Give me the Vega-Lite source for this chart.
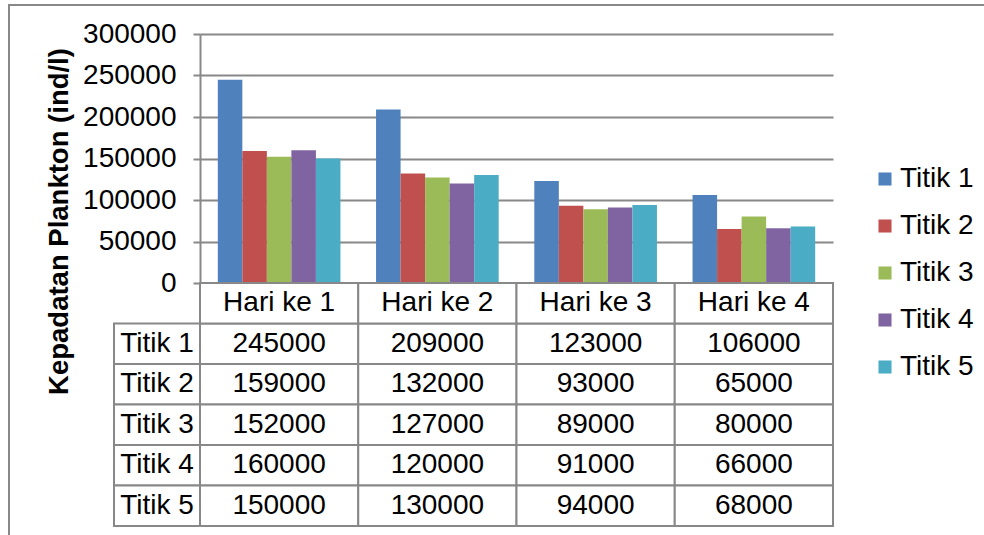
{
  "$schema": "https://vega.github.io/schema/vega-lite/v6.json",
  "width": 983,
  "height": 538,
  "padding": {"left": 9, "top": 5, "right": -8, "bottom": -8},
  "autosize": {"type": "none"},
  "background": "white",
  "config": {
    "view": {"stroke": "#888888", "strokeWidth": 2},
    "font": "Liberation Sans"
  },
  "data": {
    "values": [
      {"day": "Hari ke 1", "series": "Titik 1", "value": 245000},
      {"day": "Hari ke 2", "series": "Titik 1", "value": 209000},
      {"day": "Hari ke 3", "series": "Titik 1", "value": 123000},
      {"day": "Hari ke 4", "series": "Titik 1", "value": 106000},
      {"day": "Hari ke 1", "series": "Titik 2", "value": 159000},
      {"day": "Hari ke 2", "series": "Titik 2", "value": 132000},
      {"day": "Hari ke 3", "series": "Titik 2", "value": 93000},
      {"day": "Hari ke 4", "series": "Titik 2", "value": 65000},
      {"day": "Hari ke 1", "series": "Titik 3", "value": 152000},
      {"day": "Hari ke 2", "series": "Titik 3", "value": 127000},
      {"day": "Hari ke 3", "series": "Titik 3", "value": 89000},
      {"day": "Hari ke 4", "series": "Titik 3", "value": 80000},
      {"day": "Hari ke 1", "series": "Titik 4", "value": 160000},
      {"day": "Hari ke 2", "series": "Titik 4", "value": 120000},
      {"day": "Hari ke 3", "series": "Titik 4", "value": 91000},
      {"day": "Hari ke 4", "series": "Titik 4", "value": 66000},
      {"day": "Hari ke 1", "series": "Titik 5", "value": 150000},
      {"day": "Hari ke 2", "series": "Titik 5", "value": 130000},
      {"day": "Hari ke 3", "series": "Titik 5", "value": 94000},
      {"day": "Hari ke 4", "series": "Titik 5", "value": 68000}
    ]
  },
  "resolve": {"scale": {"x": "independent", "y": "independent"}},
  "layer": [
    {
      "mark": {"type": "bar"},
      "encoding": {
        "x": {
          "field": "day", "type": "nominal",
          "scale": {"range": [191, 824], "paddingInner": 0.225, "paddingOuter": 0.1125},
          "axis": null
        },
        "xOffset": {"field": "series", "type": "nominal", "scale": {"paddingInner": 0, "paddingOuter": 0}},
        "y": {
          "field": "value", "type": "quantitative",
          "scale": {"domain": [0, 300000], "range": [278, 29], "nice": false},
          "axis": {
            "offset": -191,
            "values": [0, 50000, 100000, 150000, 200000, 250000, 300000],
            "format": "d",
            "title": "Kepadatan Plankton (ind/l)",
            "titleFont": "Liberation Sans",
            "titleFontSize": 27.5,
            "titleFontWeight": "bold",
            "titleColor": "black",
            "titleX": -141,
            "titleY": 216,
            "titleAlign": "center",
            "titleBaseline": "middle",
            "titleAngle": 270,
            "labelFont": "Liberation Sans",
            "labelFontSize": 28,
            "labelColor": "black",
            "labelPadding": 17,
            "domainColor": "#888888",
            "domainWidth": 2,
            "tickColor": "#888888",
            "tickWidth": 2,
            "tickSize": 7,
            "grid": true,
            "gridColor": "#888888",
            "gridWidth": 2
          }
        },
        "color": {
          "field": "series", "type": "nominal",
          "scale": {
            "domain": ["Titik 1", "Titik 2", "Titik 3", "Titik 4", "Titik 5"],
            "range": ["#4F81BD", "#C0504D", "#9BBB59", "#8064A2", "#4BACC6"]
          },
          "legend": {
            "title": null,
            "orient": "none",
            "legendX": 862,
            "legendY": 160,
            "padding": 0,
            "symbolType": "square",
            "symbolSize": 170,
            "symbolStrokeWidth": 0,
            "labelFont": "Liberation Sans",
            "labelFontSize": 28,
            "labelColor": "black",
            "labelOffset": 1,
            "rowPadding": 19
          }
        }
      }
    },
    {
      "layer": [
        {
          "mark": {"type": "rect", "fill": "white", "stroke": "#888888", "strokeWidth": 2},
          "encoding": {
            "x": {"field": "day", "type": "nominal"},
            "y": {"field": "series", "type": "nominal"}
          }
        },
        {
          "mark": {"type": "text", "fontSize": 28, "color": "black", "baseline": "middle", "align": "center"},
          "encoding": {
            "x": {"field": "day", "type": "nominal"},
            "y": {"field": "series", "type": "nominal"},
            "text": {"field": "value", "type": "quantitative", "format": "d"}
          }
        },
        {
          "transform": [{"aggregate": [{"op": "count", "as": "n"}], "groupby": ["day"]}],
          "layer": [
            {
              "mark": {"type": "rect", "fill": "white", "stroke": "#888888", "strokeWidth": 2},
              "encoding": {
                "x": {"field": "day", "type": "nominal"},
                "y": {"datum": "Hari", "type": "nominal"}
              }
            },
            {
              "mark": {"type": "text", "fontSize": 28, "color": "black", "baseline": "middle", "align": "center"},
              "encoding": {
                "x": {"field": "day", "type": "nominal"},
                "y": {"datum": "Hari", "type": "nominal"},
                "text": {"field": "day", "type": "nominal"}
              }
            }
          ]
        }
      ],
      "encoding": {
        "x": {
          "field": "day", "type": "nominal",
          "scale": {"type": "band", "range": [191, 824], "paddingInner": 0, "paddingOuter": 0},
          "axis": null
        },
        "y": {
          "field": "series", "type": "nominal",
          "scale": {"type": "band", "domain": ["Hari", "Titik 1", "Titik 2", "Titik 3", "Titik 4", "Titik 5"], "range": [278, 521], "paddingInner": 0, "paddingOuter": 0},
          "axis": null
        }
      }
    },
    {
      "transform": [{"aggregate": [{"op": "count", "as": "n"}], "groupby": ["series"]}],
      "layer": [
        {
          "mark": {"type": "rect", "fill": "white", "stroke": "#888888", "strokeWidth": 2},
          "encoding": {
            "x": {"datum": "Titik", "type": "nominal"},
            "y": {"field": "series", "type": "nominal"}
          }
        },
        {
          "mark": {"type": "text", "fontSize": 28, "color": "black", "baseline": "middle", "align": "center"},
          "encoding": {
            "x": {"datum": "Titik", "type": "nominal"},
            "y": {"field": "series", "type": "nominal"},
            "text": {"field": "series", "type": "nominal"}
          }
        }
      ],
      "encoding": {
        "x": {
          "datum": "Titik", "type": "nominal",
          "scale": {"type": "band", "domain": ["Titik"], "range": [105, 191], "paddingInner": 0, "paddingOuter": 0},
          "axis": null
        },
        "y": {
          "field": "series", "type": "nominal",
          "scale": {"type": "band", "domain": ["Hari", "Titik 1", "Titik 2", "Titik 3", "Titik 4", "Titik 5"], "range": [278, 521], "paddingInner": 0, "paddingOuter": 0},
          "axis": null
        }
      }
    }
  ]
}
